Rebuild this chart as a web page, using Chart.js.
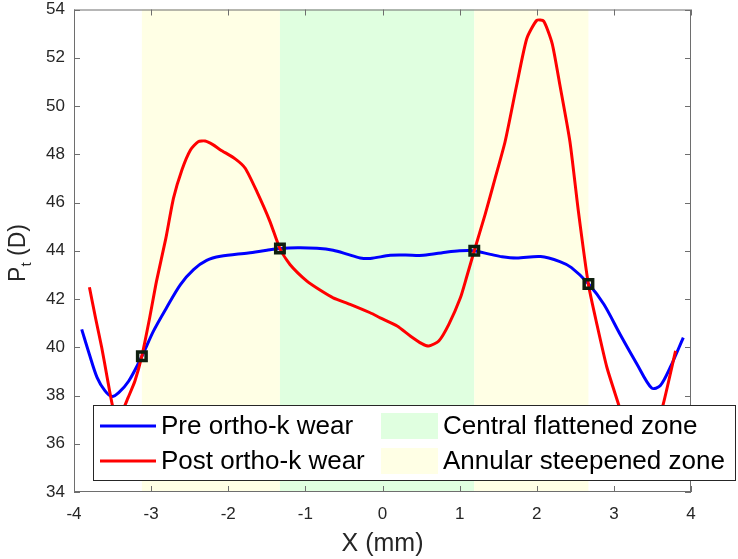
<!DOCTYPE html>
<html>
<head>
<meta charset="utf-8">
<script src="https://cdn.jsdelivr.net/npm/chart.js@4/dist/chart.umd.min.js"></script>
<style>
  body { margin: 0; background: #fff; }
  #wrap { width: 738px; height: 559px; }
</style>
</head>
<body>
<div id="wrap"><canvas id="grafico"></canvas></div>
<script>
const preX = [-3.90, -3.80, -3.70, -3.60, -3.51, -3.42, -3.29, -3.12, -2.97, -2.80, -2.62, -2.45, -2.28, -2.10, -1.74, -1.50, -1.33, -1.10, -0.85, -0.64, -0.45, -0.29, -0.16, 0.10, 0.30, 0.53, 0.84, 1.00, 1.18, 1.40, 1.55, 1.74, 2.05, 2.30, 2.45, 2.67, 2.87, 3.08, 3.30, 3.49, 3.60, 3.73, 3.90];
const preY = [40.74, 39.70, 38.74, 38.20, 37.96, 38.12, 38.60, 39.62, 40.67, 41.64, 42.60, 43.22, 43.60, 43.77, 43.91, 44.02, 44.09, 44.12, 44.10, 44.02, 43.85, 43.70, 43.68, 43.81, 43.82, 43.81, 43.95, 44.00, 44.00, 43.85, 43.75, 43.70, 43.76, 43.55, 43.30, 42.63, 41.78, 40.54, 39.30, 38.31, 38.40, 39.16, 40.40];

const postX = [-3.80, -3.72, -3.64, -3.57, -3.50, -3.44, -3.38, -3.30, -3.21, -3.12, -3.02, -2.93, -2.81, -2.71, -2.60, -2.49, -2.39, -2.30, -2.20, -2.10, -1.91, -1.78, -1.63, -1.46, -1.33, -1.20, -0.98, -0.80, -0.64, -0.42, -0.16, -0.03, 0.19, 0.36, 0.51, 0.60, 0.73, 0.86, 1.01, 1.09, 1.19, 1.33, 1.46, 1.59, 1.74, 1.87, 2.00, 2.09, 2.20, 2.30, 2.43, 2.54, 2.67, 2.78, 2.91, 3.06, 3.20, 3.35, 3.50, 3.64, 3.80];
const postY = [42.49, 41.20, 39.98, 38.75, 37.57, 37.10, 37.30, 37.90, 38.60, 39.64, 41.20, 42.74, 44.50, 46.18, 47.36, 48.18, 48.52, 48.55, 48.40, 48.18, 47.81, 47.42, 46.46, 45.22, 44.09, 43.43, 42.74, 42.35, 42.05, 41.78, 41.43, 41.22, 40.88, 40.47, 40.15, 40.05, 40.26, 40.95, 42.05, 42.90, 44.00, 45.50, 47.00, 48.53, 50.87, 52.79, 53.55, 53.52, 52.59, 50.87, 48.53, 45.63, 42.60, 40.95, 39.16, 37.64, 36.20, 35.60, 36.10, 37.64, 39.85];

const crossX = [-3.12, -1.33, 1.19, 2.67];
const crossY = [39.63, 44.09, 44.00, 42.62];

const zoneEdges = [-3.12, -1.33, 1.19, 2.67];
const xTicks = [-4, -3, -2, -1, 0, 1, 2, 3, 4];
const yTicks = [34, 36, 38, 40, 42, 44, 46, 48, 50, 52, 54];

const verde = 'rgb(224, 255, 224)';
const amarillo = 'rgb(255, 255, 229)';
const ejes = '#6e6e6e';
const texto = '#262626';
const fuente = '"Liberation Sans", Arial, sans-serif';

const pares = (xs, ys) => xs.map((v, i) => ({x: v, y: ys[i]}));

const extras = {
  id: 'extras',
  beforeDatasetsDraw(chart) {
    const {ctx, chartArea: a, scales: {x}} = chart;
    const colores = [amarillo, verde, amarillo];
    ctx.save();
    for (let i = 0; i < colores.length; i++) {
      const x0 = x.getPixelForValue(zoneEdges[i]);
      const x1 = x.getPixelForValue(zoneEdges[i + 1]);
      ctx.fillStyle = colores[i];
      ctx.fillRect(x0, a.top, x1 - x0, a.bottom - a.top);
    }
    ctx.restore();
  },
  afterDraw(chart) {
    const {ctx, chartArea: a, scales: {x, y}} = chart;
    ctx.save();
    // caja y marcas hacia dentro
    ctx.strokeStyle = ejes;
    ctx.lineWidth = 1;
    ctx.strokeRect(a.left + 0.5, a.top + 0.5, a.right - a.left - 1, a.bottom - a.top - 1);
    ctx.beginPath();
    xTicks.forEach(v => {
      const px = Math.round(x.getPixelForValue(v)) + 0.5;
      ctx.moveTo(px, a.bottom); ctx.lineTo(px, a.bottom - 6);
      ctx.moveTo(px, a.top); ctx.lineTo(px, a.top + 6);
    });
    yTicks.forEach(v => {
      const py = Math.round(y.getPixelForValue(v)) + 0.5;
      ctx.moveTo(a.left, py); ctx.lineTo(a.left + 6, py);
      ctx.moveTo(a.right, py); ctx.lineTo(a.right - 6, py);
    });
    ctx.stroke();

    // titulos de ejes
    ctx.fillStyle = texto;
    ctx.font = '25px ' + fuente;
    ctx.textAlign = 'center';
    ctx.textBaseline = 'alphabetic';
    ctx.fillText('X (mm)', (a.left + a.right) / 2, 551);

    ctx.save();
    ctx.translate(25, 253);
    ctx.rotate(-Math.PI / 2);
    ctx.textAlign = 'left';
    ctx.font = '23px ' + fuente;
    const wP = ctx.measureText('P').width;
    ctx.font = '15px ' + fuente;
    const wt = ctx.measureText('t').width;
    ctx.font = '23px ' + fuente;
    const wD = ctx.measureText(' (D)').width;
    let cx = -(wP + wt + wD) / 2;
    ctx.fillText('P', cx, 0);
    cx += wP;
    ctx.font = '15px ' + fuente;
    ctx.fillText('t', cx, 6);
    cx += wt;
    ctx.font = '23px ' + fuente;
    ctx.fillText(' (D)', cx, 0);
    ctx.restore();

    // leyenda
    const L = {x: 93.5, y: 405.5, w: 642, h: 75};
    ctx.fillStyle = '#fff';
    ctx.fillRect(L.x, L.y, L.w, L.h);
    ctx.strokeStyle = texto;
    ctx.lineWidth = 1;
    ctx.strokeRect(L.x, L.y, L.w, L.h);
    ctx.font = '26px ' + fuente;
    ctx.textAlign = 'left';
    ctx.textBaseline = 'middle';
    const filas = [426, 461];
    const lineas = [['Pre ortho-k wear', 'blue'], ['Post ortho-k wear', 'red']];
    lineas.forEach(([t, c], i) => {
      ctx.strokeStyle = c;
      ctx.lineWidth = 3;
      ctx.beginPath();
      ctx.moveTo(100, filas[i]); ctx.lineTo(156, filas[i]);
      ctx.stroke();
      ctx.fillStyle = '#000';
      ctx.fillText(t, 161, filas[i] + 1);
    });
    const zonas = [['Central flattened zone', verde], ['Annular steepened zone', amarillo]];
    zonas.forEach(([t, c], i) => {
      ctx.fillStyle = c;
      ctx.fillRect(381, filas[i] - 13, 57, 26);
      ctx.fillStyle = '#000';
      ctx.fillText(t, 443, filas[i] + 1);
    });
    ctx.restore();
  }
};

new Chart(document.getElementById('grafico'), {
  type: 'line',
  data: {
    datasets: [
      {label: 'Cruces', data: pares(crossX, crossY), showLine: false, pointStyle: 'rect', pointRadius: 6, pointBorderWidth: 3.5, pointBorderColor: '#0f1f0f', pointBackgroundColor: 'rgba(0,0,0,0)'},
      {label: 'Post ortho-k wear', data: pares(postX, postY), borderColor: 'red', borderWidth: 3, pointRadius: 0, tension: 0.2},
      {label: 'Pre ortho-k wear', data: pares(preX, preY), borderColor: 'blue', borderWidth: 3, pointRadius: 0, tension: 0.3}
    ]
  },
  options: {
    responsive: true,
    maintainAspectRatio: false,
    animation: false,
    layout: {padding: {left: 0, right: 47, top: 7, bottom: 0}},
    plugins: {legend: {display: false}, tooltip: {enabled: false}},
    scales: {
      x: {
        type: 'linear', min: -4, max: 4,
        ticks: {stepSize: 1, color: texto, padding: 12, font: {family: fuente, size: 17}, maxRotation: 0},
        grid: {drawOnChartArea: false, drawTicks: false},
        border: {display: false},
        afterFit: s => { s.height = 67; s.paddingLeft = 0; s.paddingRight = 0; }
      },
      y: {
        min: 34, max: 54,
        ticks: {stepSize: 2, color: texto, padding: 9, font: {family: fuente, size: 17}},
        grid: {drawOnChartArea: false, drawTicks: false},
        border: {display: false},
        afterFit: s => { s.width = 74; s.paddingTop = 0; s.paddingBottom = 0; }
      }
    }
  },
  plugins: [extras]
});
</script>
</body>
</html>
